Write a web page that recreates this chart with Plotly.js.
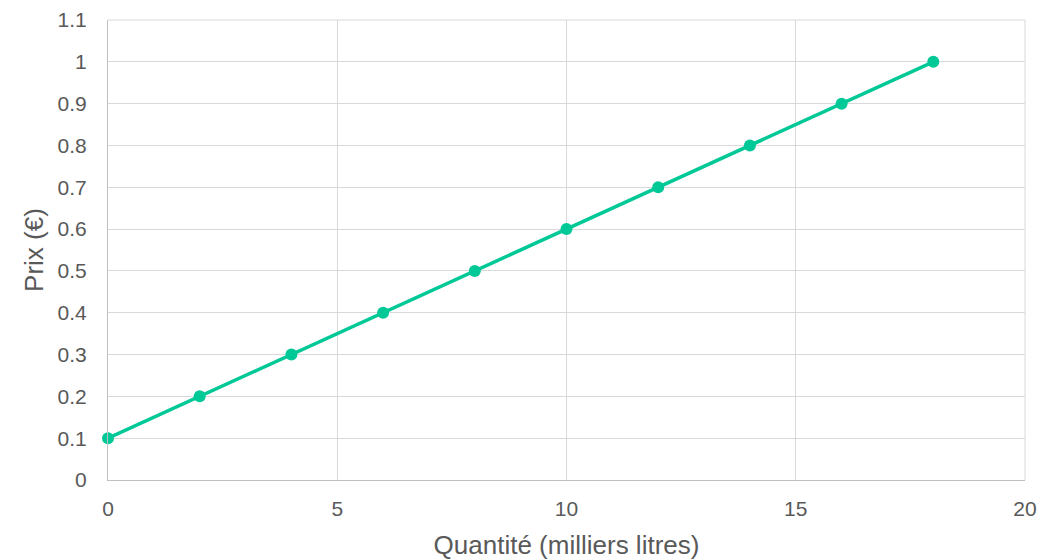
<!DOCTYPE html>
<html><head><meta charset="utf-8">
<script src="https://cdn.plot.ly/plotly-3.0.1.min.js"></script>
<style>html,body{margin:0;padding:0;background:#fff;}#chart{width:1044px;height:560px;}</style>
</head><body><div id="chart"></div>
<script>
const quantite = [0, 2, 4, 6, 8, 10, 12, 14, 16, 18];
const prix = [0.1, 0.2, 0.3, 0.4, 0.5, 0.6, 0.7, 0.8, 0.9, 1.0];
const yTicks = [0, 0.1, 0.2, 0.3, 0.4, 0.5, 0.6, 0.7, 0.8, 0.9, 1, 1.1];
const yTickText = ['0','0.1','0.2','0.3','0.4','0.5','0.6','0.7','0.8','0.9','1','1.1'];
const xTicks = [0, 5, 10, 15, 20];

const fam = '"Liberation Sans", Arial, sans-serif';
const tickFont = {family: fam, size: 21, color: '#595959'};
const titleFont = {family: fam, size: 26, color: '#595959'};
Plotly.newPlot('chart', [{
  x: quantite, y: prix, type: 'scatter', mode: 'lines+markers',
  line: {color: '#00C896', width: 3.5},
  marker: {color: '#00C896', size: 12},
  cliponaxis: false, hoverinfo: 'skip'
}], {
  width: 1044, height: 560,
  margin: {l: 108, r: 19, t: 20, b: 80},
  paper_bgcolor: '#fff', plot_bgcolor: '#fff',
  font: tickFont, showlegend: false,
  xaxis: {range: [0, 20], tickvals: xTicks, ticktext: xTicks.map(String),
    showgrid: true, gridcolor: '#d9d9d9', gridwidth: 1,
    showline: true, linecolor: '#bfbfbf', linewidth: 1, zeroline: false,
    ticks: '', ticklabelstandoff: 10, tickfont: tickFont, automargin: false,
    title: {text: 'Quantité (milliers litres)', font: titleFont, standoff: 17}},
  yaxis: {range: [0, 1.1], tickvals: yTicks, ticktext: yTickText,
    showgrid: true, gridcolor: '#d9d9d9', gridwidth: 1,
    showline: true, linecolor: '#bfbfbf', linewidth: 1, zeroline: false,
    ticks: '', ticklabelstandoff: 16, tickfont: tickFont, automargin: false,
    title: {text: 'Prix (€)', font: titleFont, standoff: 6}},
  shapes: [{type: 'line', xref: 'paper', yref: 'paper', x0: 1, x1: 1, y0: 0, y1: 1, line: {color: '#d9d9d9', width: 1}},
           {type: 'line', xref: 'paper', yref: 'paper', x0: 0, x1: 1, y0: 1, y1: 1, line: {color: '#d9d9d9', width: 1}}]
}, {displayModeBar: false, staticPlot: true});
</script></body></html>
